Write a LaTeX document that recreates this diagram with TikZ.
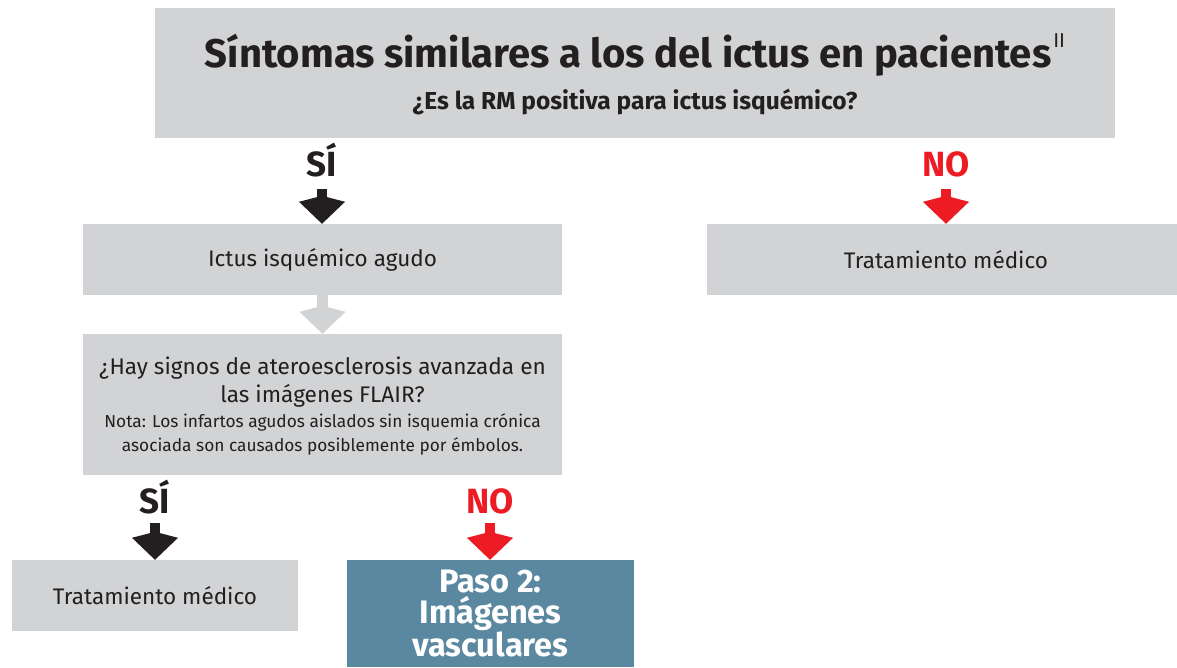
\documentclass[tikz,border=0pt]{standalone}
\usepackage{fontspec}
\setmainfont{Fira Sans}
\usetikzlibrary{arrows.meta}

\definecolor{boxgray}{HTML}{D1D3D4}
\definecolor{nored}{HTML}{ED1C24}
\definecolor{pasoblue}{HTML}{5B88A1}
\definecolor{textdark}{HTML}{231F20}

\tikzset{
  box/.style={fill=boxgray, text=textdark, inner sep=0pt, align=center,
    font=\fontsize{22.5}{26}\selectfont},
  titletext/.style={anchor=base, inner sep=0pt, text=textdark,
    font=\fontsize{40}{46}\selectfont\bfseries},
  subtext/.style={anchor=base, inner sep=0pt, text=textdark,
    font=\fontsize{24.5}{28}\selectfont\bfseries},
  qtext/.style={anchor=base, inner sep=0pt, text=textdark,
    font=\fontsize{22.6}{26}\selectfont},
  notetext/.style={anchor=base, inner sep=0pt, text=textdark,
    font=\fontsize{17.3}{20}\selectfont},
  answer/.style={anchor=base, inner sep=0pt, text=textdark,
    font=\fontsize{35}{40}\selectfont\bfseries},
  down/.style={line width=10.5pt, shorten <=12pt,
    -{Kite[length=28pt, width=46pt, inset=6pt, line width=0pt]}},
}

\begin{document}
\begin{tikzpicture}[x=1pt, y=-1pt]
\useasboundingbox (0,0) rectangle (1177,667);

% Boxes and texts
\path
(635,73) node[box, minimum width=960pt, minimum height=130pt] (sintomas) {}
(sintomas.north) +(0,60) node[titletext] (titulo) {Síntomas similares a los del ictus en pacientes\hspace{2pt}\raisebox{20pt}{\fontsize{20}{20}\selectfont\mdseries II}}
(sintomas.north) +(0,102) node[subtext] (pregunta) {¿Es la RM positiva para ictus isquémico?}
(322.5,259.5) node[box, minimum width=479pt, minimum height=71pt] (ictus) {Ictus isquémico agudo}
(946,259.5) node[box, minimum width=478pt, minimum height=71pt] (tratA) {Tratamiento médico}
(322.5,404.5) node[box, minimum width=479pt, minimum height=141pt] (flair) {}
(flair.north) +(0,41) node[qtext] (q1) {¿Hay signos de ateroesclerosis avanzada en}
(flair.north) +(0,69) node[qtext] (q2) {las imágenes FLAIR?}
(flair.north) +(0,94) node[notetext] (n1) {Nota: Los infartos agudos aislados sin isquemia crónica}
(flair.north) +(0,118) node[notetext] (n2) {asociada son causados posiblemente por émbolos.}
(155,595.5) node[box, minimum width=286pt, minimum height=71pt] (tratB) {Tratamiento médico}
(490.5,613.5) node[box, fill=pasoblue, text=white, minimum width=287pt, minimum height=107pt,
  font=\fontsize{32.5}{31.5}\selectfont\bfseries] (paso) {Paso 2:\\Imágenes\\vasculares}
;

% Answers
\path
(322,176) node[answer] (si1) {SÍ}
(946,176) node[answer, text=nored] (no1) {NO}
(155,513) node[answer] (si2) {SÍ}
(490,513) node[answer, text=nored] (no2) {NO}
;

% Arrows
\draw[down, textdark] (si1.south) -- (si1.south |- ictus.north);
\draw[down, nored] (no1.south) -- (no1.south |- tratA.north);
\draw[down, boxgray, shorten <=0pt] (ictus.south) -- (ictus.south |- flair.north);
\draw[down, textdark, shorten <=9pt] (si2.south) -- (si2.south |- tratB.north);
\draw[down, nored, shorten <=9pt] (no2.south) -- (no2.south |- paso.north);

\end{tikzpicture}
\end{document}
